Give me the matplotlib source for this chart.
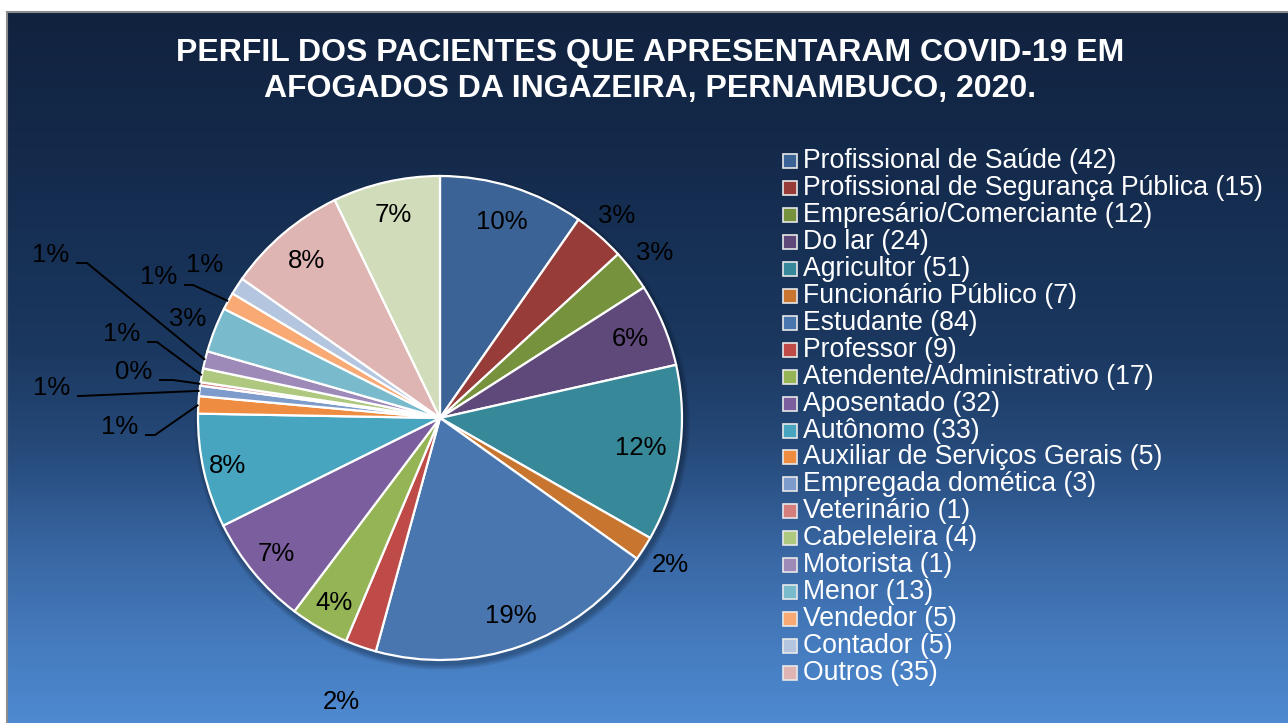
import numpy as np
import matplotlib
matplotlib.use('Agg')
from matplotlib import pyplot as plt
from matplotlib.patches import Rectangle, Circle

plt.rcParams['font.family'] = ['Liberation Sans', 'DejaVu Sans']

title = 'PERFIL DOS PACIENTES QUE APRESENTARAM COVID-19 EM\nAFOGADOS DA INGAZEIRA, PERNAMBUCO, 2020.'

categories = ['Profissional de Saúde', 'Profissional de Segurança Pública', 'Empresário/Comerciante',
              'Do lar', 'Agricultor', 'Funcionário Público', 'Estudante', 'Professor',
              'Atendente/Administrativo', 'Aposentado', 'Autônomo', 'Auxiliar de Serviços Gerais',
              'Empregada domética', 'Veterinário', 'Cabeleleira', 'Motorista', 'Menor', 'Vendedor',
              'Contador', 'Outros']
legend_counts = [42, 15, 12, 24, 51, 7, 84, 9, 17, 32, 33, 5, 3, 1, 4, 1, 13, 5, 5, 35]
# slice sizes as drawn (last slice has no legend entry)
slice_values = [42, 15, 12, 24, 51, 7, 84, 9, 17, 32, 33, 5, 3, 1, 4, 5, 13, 5, 5, 35, 31]

colors = ['#3C6395', '#983C3A', '#76923C', '#5F497A', '#378898', '#C8752F', '#4A76B0',
          '#BE4B48', '#95B456', '#7B5E9D', '#47A5BF', '#EE8D42', '#7E9CCB', '#D47F7D',
          '#AFC880', '#9D8AB9', '#79BBCD', '#F9A974', '#B4C5DF', '#DFB5B4', '#D0DCBA']

W, H = 1288, 723
cx, cy, R = 440, 723 - 418, 242

# label radius (fraction of R) per slice, for labels without leader lines
label_r = [0.85, 1.11, 1.12, 0.85, 0.84, 1.13, 0.87, 1.24, 0.88, 0.88, 0.9,
           None, None, None, None, None, 1.12, None, 1.16, 0.85, 0.86]
# leader-line labels: slice index -> (text x, text y, elbow x) in pixels from top-left
leaders = {11: (120, 427, 155), 12: (52, 388, 80), 13: (134, 372, 173),
           14: (122, 334, 157), 15: (51, 255, 87), 17: (159, 277, 193)}


def py(y):
    return H - y


fig = plt.figure(figsize=(W / 100, H / 100), dpi=100)
ax = fig.add_axes([0, 0, 1, 1])

# background gradient
stops_y = [12, 200, 350, 450, 550, 650, 723]
stops_c = np.array([(17, 34, 62), (21, 45, 80), (27, 56, 96), (38, 74, 122),
                    (56, 102, 162), (70, 125, 192), (79, 137, 208)]) / 255.0
ys = np.arange(12, 724)
grad = np.stack([np.interp(ys, stops_y, stops_c[:, k]) for k in range(3)], axis=-1)
ax.imshow(grad[:, None, :], extent=[7, W, 0, py(12)], aspect='auto', zorder=0)
ax.add_patch(Rectangle((7, -5), W, py(12) + 5, fill=False, edgecolor='#8C8C8C', lw=1.5, zorder=1))

# soft shadow under the pie
for k in range(6):
    ax.add_patch(Circle((cx + 2, cy - 4), R + 6 - k, color='black', alpha=0.05, lw=0, zorder=1))

total = sum(slice_values)
wedges, _ = ax.pie(slice_values, colors=colors, startangle=90, counterclock=False,
                   center=(cx, cy), radius=R,
                   wedgeprops=dict(edgecolor='white', linewidth=1.6))
for w in wedges:
    w.set_zorder(2)

for i, w in enumerate(wedges):
    pct = '{:.0f}%'.format(100 * slice_values[i] / total)
    ang = np.deg2rad((w.theta1 + w.theta2) / 2)
    if i in leaders:
        tx, ty, ex = leaders[i]
        rim = (cx + R * np.cos(ang), cy + R * np.sin(ang))
        ax.text(tx, py(ty), pct, fontsize=18.5, ha='center', va='center', color='black', zorder=3)
        sx = tx + 25
        ly = py(ty + 8)
        ax.plot([sx, ex, rim[0]], [ly, ly, rim[1]], color='black', lw=1.4, zorder=3,
                solid_capstyle='butt')
    else:
        r = label_r[i] * R
        ax.text(cx + r * np.cos(ang), cy + r * np.sin(ang), pct, fontsize=18.5,
                ha='center', va='center', color='black', zorder=3)

# legend
for i, name in enumerate(categories):
    yc = py(161 + 26.95 * i)
    ax.add_patch(Rectangle((783, yc - 7), 14, 14, facecolor=colors[i], edgecolor='#E8E8E8',
                           lw=1.2, zorder=3))
    ax.text(803, yc, f'{name} ({legend_counts[i]})', fontsize=19.2, color='white',
            ha='left', va='center', zorder=3)

ax.text(650, py(71), title, fontsize=23, fontweight='bold', color='white',
        ha='center', va='center', linespacing=1.3, zorder=3)

ax.set_xlim(0, W)
ax.set_ylim(0, H)
ax.set_aspect('auto')
ax.axis('off')
fig.patch.set_facecolor('white')

plt.savefig('out.png', dpi=100)
